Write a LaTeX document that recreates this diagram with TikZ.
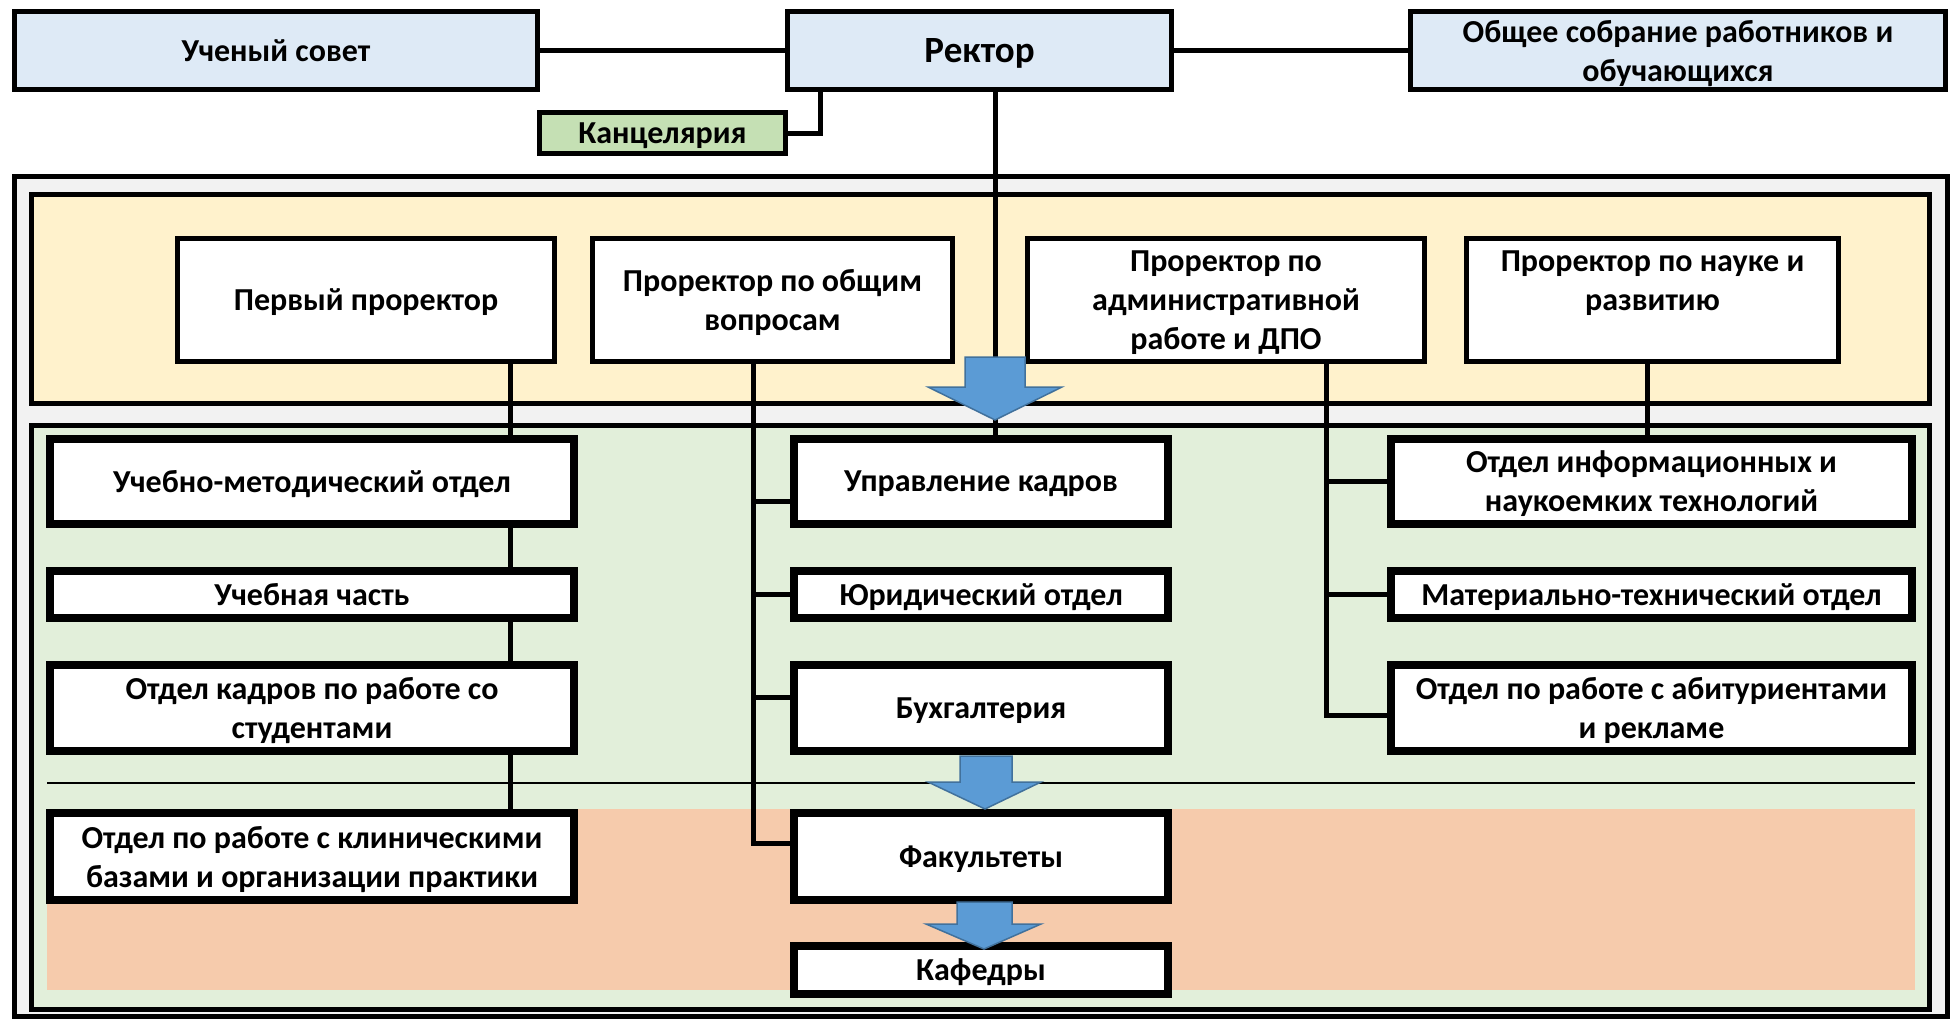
\documentclass[tikz,border=0pt]{standalone}
\usepackage{fontspec}
\setmainfont{Carlito}
\definecolor{topblue}{HTML}{DEEAF6}
\definecolor{kancgreen}{HTML}{C5E0B4}
\definecolor{outergray}{HTML}{F2F2F2}
\definecolor{vpyellow}{HTML}{FFF2CC}
\definecolor{deptgreen}{HTML}{E2EFDA}
\definecolor{facsalmon}{HTML}{F6CBAC}
\definecolor{arrowblue}{HTML}{5B9BD5}
\definecolor{arrowedge}{HTML}{41719C}
\begin{document}
\begin{tikzpicture}[x=1pt,y=-1pt,
  every node/.style={font=\fontsize{32}{39}\selectfont\bfseries, align=center, inner sep=0pt, text=black, text depth=0pt},
  topbox/.style={draw, line width=5pt, fill=topblue},
  kancbox/.style={draw, line width=5pt, fill=kancgreen},
  vpbox/.style={draw, line width=5pt, fill=white},
  dbox/.style={draw, line width=8pt, fill=white},
  conn/.style={draw, line width=5pt},
  bigarrow/.style={fill=arrowblue, draw=arrowedge, line width=1.5pt, line join=miter}]
\useasboundingbox (0,0) rectangle (1954,1018);

% background regions
\draw[line width=5pt, fill=outergray] (14.5,176.5) rectangle (1947.5,1016);
\draw[line width=5pt, fill=vpyellow] (31.5,194.5) rectangle (1929.5,403.5);
\draw[line width=5pt, fill=deptgreen] (31.5,425.5) rectangle (1929.5,1009.5);
\fill[facsalmon] (47,809) rectangle (1915,990);
\draw[line width=2.5pt] (47,783) -- (1915,783);

% top level
\node[topbox, minimum width=523pt, minimum height=78pt] (sovet) at (276,50.5) {Ученый совет};
\node[topbox, minimum width=384pt, minimum height=78pt, font=\fontsize{37}{44}\selectfont\bfseries] (rector) at (979.5,50.5) {Ректор};
\node[topbox, minimum width=535pt, minimum height=78pt] (sobr) at (1678,50.5) {Общее собрание работников и\\обучающихся};
\node[kancbox, minimum width=246pt, minimum height=41pt] (kanc) at (662.5,133) {Канцелярия};

% vice-rectors
\node[vpbox, minimum width=377pt, minimum height=123pt] (p1) at (366,300) {Первый проректор};
\node[vpbox, minimum width=360pt, minimum height=123pt] (p2) at (772.5,300) {Проректор по общим\\вопросам};
\node[vpbox, minimum width=397pt, minimum height=123pt] (p3) at (1226,300) {Проректор по\\административной\\работе и ДПО};
\node[vpbox, minimum width=372pt, minimum height=123pt] (p4) at (1652.5,300) {Проректор по науке и\\развитию\\\mbox{}};

% departments
\node[dbox, minimum width=524pt, minimum height=85pt] (umo) at (312,481.5) {Учебно-методический отдел};
\node[dbox, minimum width=524pt, minimum height=47pt] (uch) at (312,594.5) {Учебная часть};
\node[dbox, minimum width=524pt, minimum height=86pt] (okd) at (312,708) {Отдел кадров по работе со\\студентами};
\node[dbox, minimum width=524pt, minimum height=87pt] (klin) at (312,856.5) {Отдел по работе с клиническими\\базами и организации практики};

\node[dbox, minimum width=374pt, minimum height=85pt] (uk) at (981,481.5) {Управление кадров};
\node[dbox, minimum width=374pt, minimum height=47pt] (yur) at (981,594.5) {Юридический отдел};
\node[dbox, minimum width=374pt, minimum height=86pt] (buh) at (981,708) {Бухгалтерия};
\node[dbox, minimum width=374pt, minimum height=87pt] (fak) at (981,856.5) {Факультеты};
\node[dbox, minimum width=374pt, minimum height=48pt] (kaf) at (981,970) {Кафедры};

\node[dbox, minimum width=521pt, minimum height=85pt] (info) at (1651.5,481.5) {Отдел информационных и\\наукоемких технологий};
\node[dbox, minimum width=521pt, minimum height=47pt] (mat) at (1651.5,594.5) {Материально-технический отдел};
\node[dbox, minimum width=521pt, minimum height=86pt] (abit) at (1651.5,708) {Отдел по работе с абитуриентами\\и рекламе};

% guide coordinates
\coordinate (L) at (510,0);
\coordinate (M) at (753,0);
\coordinate (R) at (1326,0);
\coordinate (S) at (1647,0);
\coordinate (RL) at (995,0);

% connectors, top
\draw[conn] (sovet.east) -- (rector.west);
\draw[conn] (rector.east) -- (sobr.west);
\draw[conn] ([xshift=-159.5pt]rector.south) |- (kanc.east);
\draw[conn] (rector.south -| RL) -- (uk.north -| RL);

% first vice-rector chain
\draw[conn] (p1.south -| L) -- (umo.north -| L);
\draw[conn] (umo.south -| L) -- (uch.north -| L);
\draw[conn] (uch.south -| L) -- (okd.north -| L);
\draw[conn] (okd.south -| L) -- (klin.north -| L);

% general vice-rector
\draw[conn] (p2.south -| M) |- ([yshift=13pt]fak.west);
\draw[conn] ([yshift=-20pt]uk.west -| M) -- ([yshift=-20pt]uk.west);
\draw[conn] (yur.west -| M) -- (yur.west);
\draw[conn] ([yshift=11pt]buh.west -| M) -- ([yshift=11pt]buh.west);

% administrative vice-rector
\draw[conn] (p3.south -| R) |- ([yshift=-7pt]abit.west);
\draw[conn] (info.west -| R) -- (info.west);
\draw[conn] (mat.west -| R) -- (mat.west);

% science vice-rector
\draw[conn] (p4.south -| S) -- (info.north -| S);

% block arrows
\draw[bigarrow] (965,357) -- (1025,357) -- (1025,387) -- (1062,387) -- (995,420) -- (928,387) -- (965,387) -- cycle;
\draw[bigarrow] (960,756) -- (1012,756) -- (1012,782) -- (1041,782) -- (985,809) -- (928,782) -- (960,782) -- cycle;
\draw[bigarrow] (957,902) -- (1012,902) -- (1012,924) -- (1041,924) -- (984,949) -- (926,924) -- (957,924) -- cycle;
\end{tikzpicture}
\end{document}
